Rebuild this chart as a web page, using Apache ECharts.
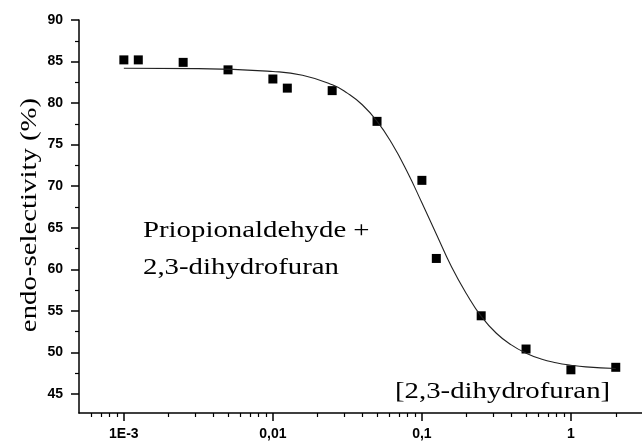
<!DOCTYPE html>
<html>
<head>
<meta charset="utf-8">
<script src="https://cdn.jsdelivr.net/npm/echarts@6/dist/echarts.min.js"></script>
<style>
  html, body { margin: 0; padding: 0; background: #fff; }
  #chart { width: 642px; height: 444px; }
</style>
</head>
<body>
<div id="chart"></div>
<script>
// measured points
var concentration = [0.001, 0.00125, 0.0025, 0.005, 0.01, 0.0125, 0.025, 0.05, 0.1, 0.125, 0.25, 0.5, 1, 2];
var selectivity = [85.2, 85.2, 84.9, 84.0, 82.9, 81.8, 81.5, 77.8, 70.7, 61.3, 54.4, 50.4, 47.9, 48.2];

// fitted curve
var fitX = [0.001, 0.00316, 0.01, 0.0158, 0.0251, 0.0316, 0.0398, 0.0501, 0.0631, 0.0794, 0.1, 0.126,
            0.158, 0.2, 0.251, 0.316, 0.398, 0.501, 0.631, 0.794, 1, 1.26, 2];
var fitY = [84.2, 84.15, 83.8, 83.35, 82.2, 81.2, 79.8, 77.8, 75.1, 71.8, 68.0, 64.1,
            60.3, 57.0, 54.3, 52.3, 50.9, 49.9, 49.2, 48.75, 48.45, 48.25, 48.05];

var xMajor = [0.001, 0.01, 0.1, 1];
var xTickLabels = ['1E-3', '0,01', '0,1', '1'];
var xMinor = [0.0006, 0.0007, 0.0008, 0.0009,
              0.002, 0.003, 0.004, 0.005, 0.006, 0.007, 0.008, 0.009,
              0.02, 0.03, 0.04, 0.05, 0.06, 0.07, 0.08, 0.09,
              0.2, 0.3, 0.4, 0.5, 0.6, 0.7, 0.8, 0.9, 2];
var yMajor = [45, 50, 55, 60, 65, 70, 75, 80, 85, 90];
var yMinor = [47.5, 52.5, 57.5, 62.5, 67.5, 72.5, 77.5, 82.5, 87.5];

var lg = function (v) { return Math.log10(v); };
var xMin = lg(0.0005), xMax = lg(3);

var chart = echarts.init(document.getElementById('chart'));

var labelFont = { color: '#000', fontFamily: 'Liberation Sans', fontSize: 14, fontWeight: 'bold' };
var serifFont = '24px "Liberation Serif"';

function note(text, x, y, rot) {
  return {
    type: 'text', x: x, y: y, rotation: rot || 0, scaleX: 1.2,
    style: { text: text, font: serifFont, fill: '#000',
      align: rot ? 'center' : 'left', textAlign: rot ? 'center' : 'left',
      verticalAlign: 'middle', textVerticalAlign: 'middle' }
  };
}

chart.setOption({
  animation: false,
  backgroundColor: '#fff',
  grid: { left: 79, right: 0, top: 20, bottom: 31 },
  xAxis: [{
    type: 'value', min: xMin, max: xMax, position: 'bottom',
    axisLine: { onZero: false, lineStyle: { color: '#000', width: 1.5 } },
    axisTick: { length: 8, lineStyle: { color: '#000', width: 1.5 },
      customValues: xMajor.map(lg) },
    axisLabel: Object.assign({ margin: 14, customValues: xMajor.map(lg),
      formatter: function (v) { return xTickLabels[Math.round(v) + 3]; } }, labelFont),
    splitLine: { show: false }
  }, {
    type: 'value', min: xMin, max: xMax, position: 'bottom',
    axisLine: { show: false, onZero: false },
    axisTick: { length: 4, lineStyle: { color: '#000', width: 1.2 },
      customValues: xMinor.map(lg) },
    axisLabel: { show: false },
    splitLine: { show: false }
  }],
  yAxis: [{
    type: 'value', min: 42.7, max: 90, position: 'left',
    axisLine: { show: true, onZero: false, lineStyle: { color: '#000', width: 1.5 } },
    axisTick: { show: true, length: 8, lineStyle: { color: '#000', width: 1.5 },
      customValues: yMajor },
    axisLabel: Object.assign({ margin: 16, customValues: yMajor }, labelFont),
    splitLine: { show: false }
  }, {
    type: 'value', min: 42.7, max: 90, position: 'left',
    axisLine: { show: false, onZero: false },
    axisTick: { show: true, length: 4, lineStyle: { color: '#000', width: 1.2 },
      customValues: yMinor },
    axisLabel: { show: false },
    splitLine: { show: false }
  }],
  graphic: [
    note('endo-selectivity (%)', 30, 215, Math.PI / 2),
    note('Priopionaldehyde +', 143, 231),
    note('2,3-dihydrofuran', 143, 268),
    note('[2,3-dihydrofuran]', 395, 392)
  ],
  series: [{
    type: 'line', xAxisIndex: 0, yAxisIndex: 0,
    data: fitX.map(function (x, i) { return [lg(x), fitY[i]]; }),
    smooth: true, showSymbol: false, silent: true,
    lineStyle: { color: '#222', width: 1.1 }
  }, {
    type: 'scatter', xAxisIndex: 0, yAxisIndex: 0,
    data: concentration.map(function (x, i) { return [lg(x), selectivity[i]]; }),
    symbol: 'rect', symbolSize: 9,
    itemStyle: { color: '#000', opacity: 1 }
  }]
});
</script>
</body>
</html>
